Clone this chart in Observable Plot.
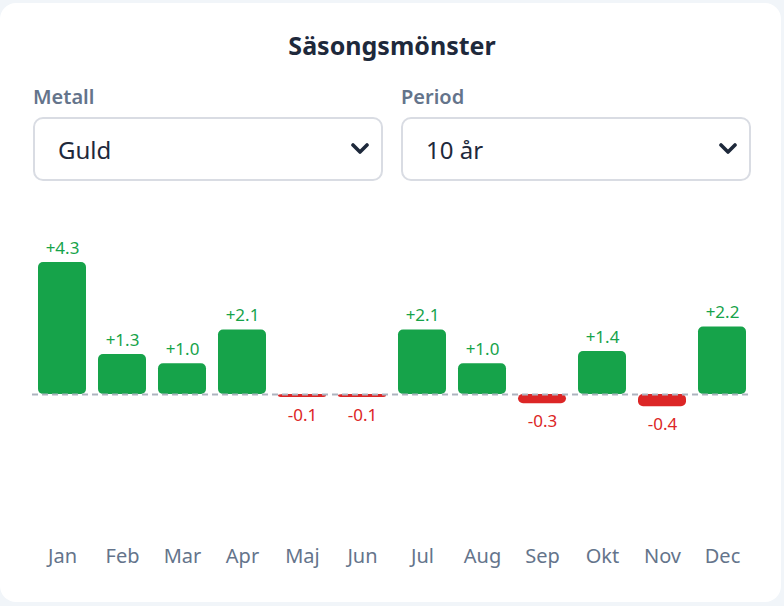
<!DOCTYPE html>
<html lang="sv">
<head>
<meta charset="utf-8">
<script src="https://cdn.jsdelivr.net/npm/d3@7"></script>
<script src="https://cdn.jsdelivr.net/npm/@observablehq/plot@0.6"></script>
<style>
  html, body { margin: 0; padding: 0; background: #f1f5f9; width: 784px; height: 606px; overflow: hidden; }
  body { font-family: "Noto Sans", "Open Sans", sans-serif; }
  .card { position: absolute; left: 0; top: 3px; width: 781px; height: 599px; background: #fff; border-radius: 16px; }
  h1 { position: absolute; left: 0; width: 784px; top: 28px; margin: 0; text-align: center; font-size: 25px; font-weight: 700; color: #1e293b; line-height: 34px; }
  .lbl { position: absolute; top: 83px; font-size: 20px; font-weight: 600; color: #64748b; line-height: 27px; }
  .sel { position: absolute; top: 117px; width: 350px; height: 64px; box-sizing: border-box; border: 2px solid #d9dce3; border-radius: 10px; background: #fff; }
  .sel select { -webkit-appearance: none; appearance: none; border: none; background: transparent; width: 100%; height: 100%; padding: 0 0 0 23px; font-family: inherit; font-size: 24px; color: #1e293b; outline: none; }
  .sel svg.chev { position: absolute; right: 12px; top: 24px; pointer-events: none; }
  #chart { position: absolute; left: 0; top: 200px; }
</style>
</head>
<body>
<div class="card"></div>
<h1>Säsongsmönster</h1>
<div class="lbl" style="left:33px">Metall</div>
<div class="lbl" style="left:401px">Period</div>
<div class="sel" style="left:33px">
  <select><option>Guld</option><option>Silver</option></select>
  <svg class="chev" width="18" height="12" viewBox="0 0 18 12"><path d="M2 2 L9 9 L16 2" fill="none" stroke="#1e293b" stroke-width="3.6" stroke-linecap="round" stroke-linejoin="round"/></svg>
</div>
<div class="sel" style="left:401px">
  <select><option>10 år</option><option>5 år</option></select>
  <svg class="chev" width="18" height="12" viewBox="0 0 18 12"><path d="M2 2 L9 9 L16 2" fill="none" stroke="#1e293b" stroke-width="3.6" stroke-linecap="round" stroke-linejoin="round"/></svg>
</div>
<div id="chart"></div>
<script>
const months = ["Jan","Feb","Mar","Apr","Maj","Jun","Jul","Aug","Sep","Okt","Nov","Dec"];
const values = [4.3, 1.3, 1.0, 2.1, -0.1, -0.1, 2.1, 1.0, -0.3, 1.4, -0.4, 2.2];

const data = months.map((m, i) => ({month: m, value: values[i]}));
const green = "#16a34a", red = "#dc2626";
const fmt = v => (v >= 0 ? "+" : "") + v.toFixed(1);

const chart = Plot.plot({
  width: 784,
  height: 380,
  marginLeft: 32,
  marginRight: 32,
  marginTop: 62,
  marginBottom: 54,
  style: { fontFamily: "'Noto Sans', 'Open Sans', sans-serif", background: "transparent", overflow: "visible" },
  x: { domain: months, paddingInner: 0.2, paddingOuter: 0.1, label: null },
  y: { domain: [-4.3, 4.3], axis: null },
  marks: [
    Plot.barY(data, { x: "month", y: "value", fill: d => d.value >= 0 ? green : red, rx: 5 }),
    Plot.ruleY([0], { stroke: "#adb3bf", strokeWidth: 2, strokeDasharray: "6,4" }),
    Plot.text(data.filter(d => d.value >= 0), { x: "month", y: "value", text: d => fmt(d.value), dy: -14, fill: green, fontSize: 17 }),
    Plot.text(data.filter(d => d.value < 0), { x: "month", y: "value", text: d => fmt(d.value), dy: 18, fill: red, fontSize: 17 }),
    Plot.axisX({ tickSize: 0, tickPadding: 22, fontSize: 20, color: "#64748b", label: null })
  ]
});
document.getElementById("chart").appendChild(chart);
</script>
</body>
</html>
